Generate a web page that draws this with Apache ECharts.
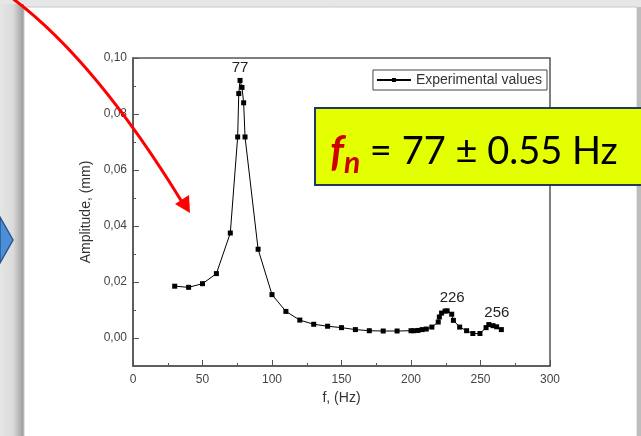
<!DOCTYPE html>
<html>
<head>
<meta charset="utf-8">
<script src="https://cdn.jsdelivr.net/npm/echarts@6/dist/echarts.min.js"></script>
<style>
  html, body { margin: 0; padding: 0; }
  #chart { width: 641px; height: 436px; }
</style>
</head>
<body>
<div id="chart"></div>
<script>
// measured frequency (Hz) and amplitude (mm)
var freq = [30, 40, 50, 60, 70, 75.3, 76.1, 77, 78.4, 79.6, 80.6, 90, 100, 110, 120, 130, 140, 150, 160, 170, 180, 190, 200,
    202, 205, 208, 211, 215, 219.6, 220.4, 222, 224.5, 226, 229.3, 230.5, 235, 240, 244.5, 249.6, 254, 256, 259, 261.6, 265];
var amp = [0.0185, 0.0181, 0.0194, 0.023, 0.0375, 0.0718, 0.0873, 0.092, 0.0895, 0.084, 0.0718, 0.0317, 0.0155, 0.0095, 0.0064, 0.0049, 0.0042, 0.0037, 0.003, 0.0026, 0.0025, 0.0025, 0.0026,
    0.0026, 0.0027, 0.003, 0.0032, 0.0039, 0.0057, 0.0075, 0.0089, 0.0096, 0.0097, 0.0085, 0.0063, 0.0039, 0.0026, 0.0016, 0.0016, 0.0037, 0.0048, 0.0044, 0.004, 0.003];

var peakFreqs = [77, 226, 256];
var peakLabels = ['77', '226', '256'];
var yTicks = [0, 0.02, 0.04, 0.06, 0.08, 0.10];
var yMinorTicks = [0.01, 0.03, 0.05, 0.07, 0.09];

var peakOffsets = [[0, 0], [5, 0], [8, 1]];

var chart = echarts.init(document.getElementById('chart'));

var data = freq.map(function (f, i) {
    var item = { value: [f, amp[i]] };
    var k = peakFreqs.indexOf(f);
    if (k >= 0) {
        item.label = { show: true, formatter: peakLabels[k], offset: peakOffsets[k] };
    }
    return item;
});

var option = {
    backgroundColor: '#e6e6e6',
    textStyle: { fontFamily: 'Liberation Sans' },
    animation: false,
    grid: {
        left: 133, right: 91, top: 58, bottom: 70,
        show: true, borderColor: '#555', borderWidth: 1.5
    },
    legend: {
        data: ['Experimental values'],
        right: 94, top: 70,
        orient: 'vertical',
        borderColor: '#444', borderWidth: 1,
        padding: [3, 5, 3, 3],
        itemWidth: 34, itemHeight: 5, itemGap: 4,
        textStyle: { fontSize: 14, color: '#333' }
    },
    xAxis: {
        type: 'value',
        min: 0, max: 300, interval: 50,
        name: 'f, (Hz)', nameLocation: 'middle', nameGap: 22,
        nameTextStyle: { fontSize: 14, color: '#333' },
        axisLine: { onZero: false, lineStyle: { color: '#555', width: 1.5 } },
        axisTick: { inside: true, length: 6, lineStyle: { color: '#555' } },
        minorTick: { show: true, splitNumber: 2, length: 3, lineStyle: { color: '#555' } },
        axisLabel: { color: '#444', fontSize: 12, margin: 8 },
        splitLine: { show: false }
    },
    yAxis: [{
        type: 'value',
        min: -0.01, max: 0.1,
        name: 'Amplitude, (mm)', nameLocation: 'middle', nameGap: 37,
        nameTextStyle: { fontSize: 14, color: '#333' },
        axisLine: { onZero: false, lineStyle: { color: '#555', width: 1.5 } },
        axisTick: { inside: true, length: 6, customValues: yTicks, lineStyle: { color: '#555' } },
        axisLabel: {
            color: '#444', fontSize: 12, margin: 6, customValues: yTicks,
            formatter: function (v) { return v.toFixed(2).replace('.', ','); }
        },
        splitLine: { show: false }
    }, {
        type: 'value',
        position: 'left',
        min: -0.01, max: 0.1,
        axisLine: { show: false, onZero: false },
        axisTick: { inside: true, length: 3, customValues: yMinorTicks, lineStyle: { color: '#555' } },
        axisLabel: { show: false },
        splitLine: { show: false }
    }],
    series: [{
        name: 'Experimental values',
        type: 'line',
        yAxisIndex: 0,
        symbol: 'rect',
        symbolSize: 5,
        color: '#000',
        lineStyle: { width: 1, color: '#000' },
        label: { position: 'top', distance: 3, fontSize: 15, color: '#222' },
        data: data
    }],
    graphic: [
        // slide page with shadow
        { type: 'rect', z: -10, shape: { x: 0, y: 4, width: 24, height: 440 },
          style: { fill: new echarts.graphic.LinearGradient(0, 0, 1, 0, [
              { offset: 0, color: '#e6e6e6' }, { offset: 0.55, color: '#dadada' }, { offset: 1, color: '#9a9a9a' }]) } },
        { type: 'rect', z: -10, shape: { x: 24, y: 7, width: 613, height: 440 },
          style: { fill: '#fff', stroke: '#c8c8c8', lineWidth: 1 } },
        { type: 'rect', z: -10, shape: { x: 637, y: 7, width: 4, height: 440 },
          style: { fill: '#bdbdbd' } },
        // blue chevron on the left
        { type: 'polygon', z: 50, shape: { points: [[0, 217], [13, 240], [0, 263]] },
          style: { fill: '#4a8fd8', stroke: '#2a5a8e', lineWidth: 1.5 } },
        // red arrow
        { type: 'bezierCurve', z: 50, shape: { x1: 12, y1: -2, x2: 182, y2: 202, cpx1: 95, cpy1: 60 },
          style: { stroke: '#f00', lineWidth: 3, fill: null } },
        { type: 'polygon', z: 50, shape: { points: [[190, 213], [175, 204], [189, 195]] },
          style: { fill: '#f00' } },
        // yellow box
        { type: 'rect', z: 60, shape: { x: 315, y: 108, width: 340, height: 77 },
          style: { fill: '#e4ff00', stroke: '#1f3864', lineWidth: 2 } },
        { type: 'text', z: 61, x: 330, y: 152,
          style: {
              text: '{f|f}{n|n}{t| = 77 \u00b1 0.55 Hz}',
              verticalAlign: 'middle',
              rich: {
                  f: { fontFamily: 'Lato', fontStyle: 'italic', fontWeight: 'bold', fontSize: 42, fill: '#cc0000' },
                  n: { fontFamily: 'Lato', fontStyle: 'italic', fontWeight: 'bold', fontSize: 30, fill: '#cc0000', padding: [22, 0, 0, 0] },
                  t: { fontFamily: 'Lato', fontSize: 38, fill: '#000' }
              }
          } }
    ]
};

chart.setOption(option);
</script>
</body>
</html>
